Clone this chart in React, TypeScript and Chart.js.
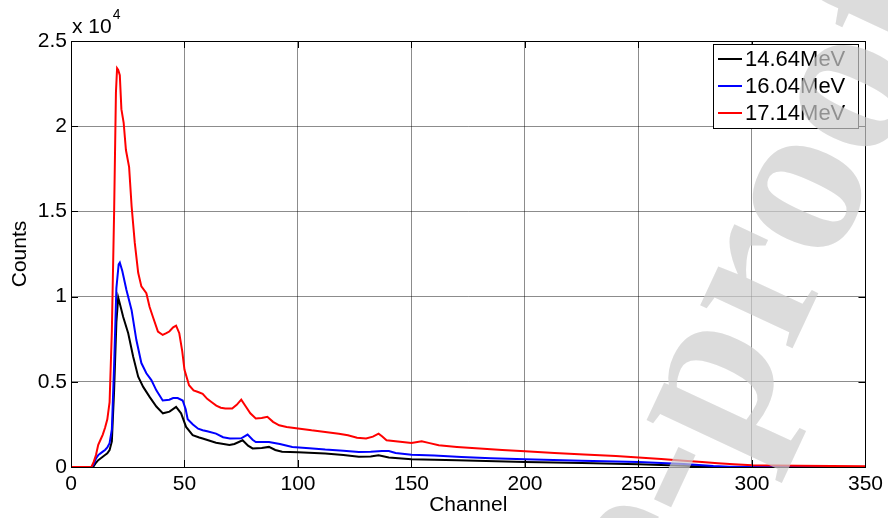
import React, { useEffect, useRef } from "react";
import { Chart, registerables } from "chart.js";
Chart.register(...registerables);

const seriesLabels = ["14.64MeV", "16.04MeV", "17.14MeV"];
const seriesColors = ["#000000", "#0000ff", "#ff0000"];

const ch14 = [0, 9, 10, 11, 12, 13, 14, 15, 16, 17, 18, 19, 20, 20.8, 21.5, 23, 25.2, 27.4, 29.6, 31.8, 34.7, 37.6, 40.5, 43.4, 46.3, 48.5, 50.7, 53.6, 56.5, 58, 63.9, 69.8, 72, 75.6, 78, 80, 84, 87.2, 90, 93, 100, 112, 120, 126.8, 132, 135.5, 140, 150, 170, 200, 225, 250, 270, 280, 290, 350];
const counts14 = [0, 0, 50, 250, 400, 500, 600, 700, 800, 1000, 1500, 4500, 8500, 9950, 9600, 8800, 7850, 6470, 5300, 4700, 4100, 3550, 3150, 3250, 3530, 3150, 2350, 1870, 1730, 1670, 1420, 1290, 1350, 1570, 1250, 1090, 1120, 1180, 1000, 900, 860, 790, 700, 600, 620, 690, 560, 460, 400, 300, 230, 160, 70, 20, 0, 0];

const ch16 = [0, 9, 10, 11, 12, 13, 14, 15, 16, 17, 18, 19, 20, 21, 21.5, 22.6, 24.4, 26.7, 28.8, 31, 33.2, 35.4, 37.6, 40.4, 43.3, 45, 47, 49.2, 50.5, 51.4, 53.7, 56, 58, 60, 63.9, 67, 70, 75, 77.8, 80, 81.4, 87.2, 92, 97.5, 105, 112, 120, 126.8, 132, 137, 140, 143, 150, 160, 172, 185, 200, 225, 250, 270, 283, 290, 300, 350];
const counts16 = [0, 0, 150, 500, 700, 800, 900, 1000, 1150, 1400, 2200, 6000, 10500, 11900, 12000, 11500, 10400, 9200, 7450, 6100, 5500, 5100, 4500, 3900, 3950, 4050, 4050, 3900, 3400, 2800, 2500, 2250, 2160, 2100, 1960, 1750, 1670, 1680, 1900, 1600, 1470, 1470, 1350, 1180, 1100, 1020, 960, 880, 900, 940, 940, 820, 720, 670, 590, 520, 450, 360, 290, 180, 60, 20, 10, 0];

const ch17 = [0, 9, 10, 11, 12, 13, 14, 15, 16, 17, 18, 19, 19.8, 20.3, 20.8, 21.5, 22.2, 23.2, 24.2, 25.6, 26.7, 28.1, 29.6, 31, 33.2, 34.6, 36.1, 38.3, 40.4, 42, 43.3, 45, 46.3, 47.7, 49, 50, 52, 54, 56, 58, 60, 62, 64, 66, 68, 71, 73, 75, 77, 79, 81.4, 84, 86.5, 89, 91.7, 95, 100, 106, 112, 118, 122, 126, 130, 133, 135.5, 137, 139, 145, 150, 154.5, 158, 162, 170, 180, 190, 200, 213, 226, 240, 250, 260, 270, 278, 285, 292, 300, 320, 335, 350];
const counts17 = [0, 0, 300, 700, 1300, 1600, 1900, 2300, 2800, 3800, 8000, 15000, 22000, 23400, 23300, 23000, 21000, 20200, 18600, 17600, 15300, 13150, 11400, 10600, 10200, 9400, 8800, 7950, 7750, 7850, 7950, 8200, 8300, 7850, 6800, 5700, 4800, 4500, 4400, 4300, 4000, 3800, 3600, 3480, 3430, 3430, 3650, 3950, 3550, 3150, 2850, 2880, 2950, 2650, 2450, 2350, 2260, 2150, 2060, 1950, 1860, 1720, 1670, 1780, 1960, 1800, 1570, 1480, 1410, 1510, 1400, 1280, 1180, 1080, 1000, 920, 820, 730, 650, 560, 470, 370, 290, 220, 160, 110, 80, 60, 40];

const xTickValues = [0, 50, 100, 150, 200, 250, 300, 350];
const yTickValues = [0, 5000, 10000, 15000, 20000, 25000];
const yTickLabels = ["0", "0.5", "1", "1.5", "2", "2.5"];
const xTitle = "Channel";
const yTitle = "Counts";
const exponentBase = "x 10";
const exponentPower = "4";
const watermarkText = "Journal Pre-proof";

const FONT = "'Liberation Sans', Arial, sans-serif";

const toPoints = (xs: number[], ys: number[]) => xs.map((x, i) => ({ x, y: ys[i] }));

const framePlugin = {
  id: "matlabFrame",
  afterDatasetsDraw(chart: any) {
    const { ctx, chartArea } = chart;
    const { left, right, top, bottom } = chartArea;
    const xs = chart.scales.x;
    const ys = chart.scales.y;
    ctx.save();
    ctx.strokeStyle = "#000";
    ctx.lineWidth = 1;
    ctx.beginPath();
    const tl = 7;
    xTickValues.forEach((v) => {
      const px = Math.round(xs.getPixelForValue(v)) + 0.5;
      ctx.moveTo(px, bottom);
      ctx.lineTo(px, bottom - tl);
      ctx.moveTo(px, top);
      ctx.lineTo(px, top + tl);
    });
    yTickValues.forEach((v) => {
      const py = Math.round(ys.getPixelForValue(v)) + 0.5;
      ctx.moveTo(left, py);
      ctx.lineTo(left + tl, py);
      ctx.moveTo(right, py);
      ctx.lineTo(right - tl, py);
    });
    ctx.stroke();
    ctx.strokeRect(Math.round(left) + 0.5, Math.round(top) + 0.5, Math.round(right - left), Math.round(bottom - top));
    ctx.restore();
  },
  afterDraw(chart: any) {
    const { ctx, chartArea } = chart;
    ctx.save();
    ctx.fillStyle = "#000";
    ctx.textBaseline = "middle";
    ctx.textAlign = "left";
    ctx.font = `21px ${FONT}`;
    const ex = chartArea.left + 1;
    ctx.fillText(exponentBase, ex, 27);
    const w = ctx.measureText(exponentBase).width;
    ctx.font = `14px ${FONT}`;
    ctx.fillText(exponentPower, ex + w + 1, 15);

    const bx = 713, by = 44, bw = 145, bh = 84;
    ctx.fillStyle = "#fff";
    ctx.fillRect(bx, by, bw, bh);
    ctx.strokeStyle = "#000";
    ctx.lineWidth = 1;
    ctx.strokeRect(bx + 0.5, by + 0.5, bw, bh);
    ctx.font = `22px ${FONT}`;
    chart.data.datasets.forEach((ds: any, i: number) => {
      const cy = 59 + i * 27;
      ctx.strokeStyle = ds.borderColor;
      ctx.lineWidth = 2;
      ctx.beginPath();
      ctx.moveTo(bx + 5, cy);
      ctx.lineTo(bx + 29, cy);
      ctx.stroke();
      ctx.fillStyle = "#000";
      ctx.fillText(ds.label, bx + 32, cy + 1);
    });

    ctx.translate(955, 0);
    ctx.rotate((-65 * Math.PI) / 180);
    ctx.font = `bold 222px 'Liberation Serif', serif`;
    ctx.textAlign = "right";
    ctx.textBaseline = "alphabetic";
    ctx.fillStyle = "rgba(205,205,205,0.7)";
    ctx.fillText(watermarkText, 0, 0);
    ctx.restore();
  },
};

export default function App() {
  const ref = useRef<HTMLCanvasElement | null>(null);
  useEffect(() => {
    if (!ref.current) return;
    const chart = new Chart(ref.current, {
      type: "line",
      data: {
        datasets: [
          { label: seriesLabels[0], data: toPoints(ch14, counts14), borderColor: seriesColors[0], order: 2 },
          { label: seriesLabels[1], data: toPoints(ch16, counts16), borderColor: seriesColors[1], order: 1 },
          { label: seriesLabels[2], data: toPoints(ch17, counts17), borderColor: seriesColors[2], order: 0 },
        ].map((d) => ({ ...d, borderWidth: 2, pointRadius: 0, tension: 0, fill: false, backgroundColor: d.borderColor })),
      },
      options: {
        animation: false,
        responsive: false,
        devicePixelRatio: 1,
        layout: { padding: { top: 41, right: 19, left: 0, bottom: 0 } },
        plugins: { legend: { display: false }, tooltip: { enabled: false } },
        scales: {
          x: {
            type: "linear",
            min: 0,
            max: 350,
            afterBuildTicks: (s: any) => { s.ticks = xTickValues.map((v) => ({ value: v })); },
            afterFit: (s: any) => { s.height = 51; },
            ticks: { color: "#000", font: { family: FONT, size: 21 }, padding: 5, maxRotation: 0, autoSkip: false },
            grid: { color: "rgba(0,0,0,0.45)", lineWidth: 1, drawTicks: false },
            border: { display: false },
            title: { display: true, text: xTitle, color: "#000", font: { family: FONT, size: 21 }, padding: 0 },
          },
          y: {
            type: "linear",
            min: 0,
            max: 25000,
            afterBuildTicks: (s: any) => { s.ticks = yTickValues.map((v) => ({ value: v })); },
            afterFit: (s: any) => { s.width = 71; },
            ticks: {
              color: "#000",
              font: { family: FONT, size: 21 },
              padding: 4,
              autoSkip: false,
              callback: (v: any) => { const i = yTickValues.indexOf(Number(v)); return i >= 0 ? yTickLabels[i] : ""; },
            },
            grid: { color: "rgba(0,0,0,0.45)", lineWidth: 1, drawTicks: false },
            border: { display: false },
            title: { display: true, text: yTitle, color: "#000", font: { family: FONT, size: 21 }, padding: { top: 8 } },
          },
        },
      },
      plugins: [framePlugin],
    });
    return () => chart.destroy();
  }, []);
  return (
    <div style={{ position: "absolute", left: 0, top: 0, width: 888, height: 518, background: "#fff" }}>
      <canvas ref={ref} width={888} height={518} />
    </div>
  );
}
